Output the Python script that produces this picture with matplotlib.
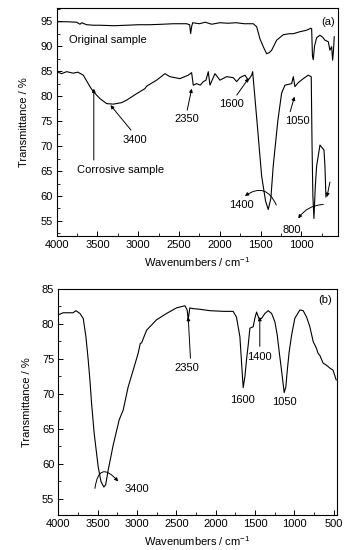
import matplotlib
matplotlib.use("Agg")
import matplotlib.pyplot as plt
from matplotlib.ticker import MultipleLocator

plt.rcParams['font.family'] = ['Liberation Sans', 'DejaVu Sans']
plt.rcParams['mathtext.fontset'] = 'custom'
plt.rcParams['mathtext.rm'] = 'Liberation Sans'
plt.rcParams['mathtext.default'] = 'regular'

# ---------------- Panel (a) data ----------------
orig_wn = [4000, 3877, 3755, 3714, 3694, 3632, 3550, 3470, 3300, 3142, 3000, 2857, 2700,
           2571, 2407, 2370, 2358, 2345, 2333, 2250, 2180, 2100, 2000, 1900, 1800, 1700,
           1591, 1549, 1509, 1468, 1427, 1395, 1365, 1304, 1223, 1150, 1100, 1018, 936,
           885, 875, 865, 855, 840, 814, 773, 740, 712, 671, 651, 630, 618, 608, 598]
orig_T = [94.9, 94.9, 94.8, 94.4, 94.7, 94.3, 94.2, 94.2, 94.1, 94.2, 94.3, 94.3, 94.4,
          94.5, 94.5, 94.3, 92.5, 94.0, 94.7, 94.5, 94.8, 94.4, 94.7, 94.6, 94.7, 94.5,
          94.5, 93.9, 91.5, 89.9, 88.5, 88.7, 89.2, 91.2, 92.3, 92.5, 92.5, 92.9, 93.2,
          93.6, 93.5, 88.0, 87.3, 90.0, 91.7, 92.2, 91.8, 91.2, 90.9, 89.2, 89.9, 87.2, 89.0, 91.9]

corr_wn = [4000, 3940, 3877, 3800, 3740, 3674, 3592, 3551, 3469, 3387, 3306, 3203, 3142,
           3020, 2918, 2897, 2775, 2673, 2612, 2489, 2387, 2346, 2326, 2285, 2240, 2203,
           2170, 2142, 2121, 2060, 1999, 1917, 1836, 1794, 1754, 1692, 1652, 1610, 1598,
           1540, 1488, 1440, 1407, 1375, 1346, 1290, 1243, 1202, 1120, 1100, 1080, 1039,
           978, 917, 880, 870, 860, 847, 830, 814, 773, 724, 712, 700]
corr_T = [84.9, 84.5, 84.9, 84.6, 84.8, 84.2, 81.9, 80.9, 79.5, 78.5, 78.4, 78.7, 79.2,
          80.5, 81.5, 82.0, 83.2, 84.5, 83.9, 83.5, 84.2, 84.7, 82.2, 82.5, 82.2, 82.9,
          83.2, 84.9, 82.2, 84.5, 83.2, 83.9, 83.7, 82.9, 83.7, 84.2, 83.2, 84.2, 84.9,
          74.0, 64.0, 59.0, 57.3, 59.5, 66.0, 75.0, 80.6, 82.2, 82.5, 83.9, 81.9, 82.7,
          83.5, 84.2, 83.9, 70.0, 60.0, 55.5, 62.0, 66.0, 70.2, 69.2, 66.0, 59.8]

# ---------------- Panel (b) data ----------------
b_wn = [4003, 3940, 3813, 3778, 3727, 3685, 3651, 3622, 3600, 3579, 3546, 3495, 3460,
        3423, 3400, 3368, 3304, 3228, 3177, 3114, 3050, 2987, 2960, 2943, 2880, 2753,
        2626, 2499, 2393, 2364, 2351, 2330, 2295, 2203, 2076, 1900, 1780, 1738, 1694,
        1670, 1652, 1630, 1608, 1588, 1567, 1525, 1504, 1482, 1449, 1418, 1376, 1334,
        1291, 1249, 1219, 1194, 1163, 1131, 1110, 1093, 1068, 1037, 996, 932, 890, 847,
        805, 763, 720, 700, 678, 636, 593, 551, 510, 470]
b_T = [81.3, 81.6, 81.6, 81.9, 81.5, 80.8, 78.2, 74.9, 72.0, 68.7, 64.4, 59.6, 57.5,
       56.7, 57.0, 59.1, 62.7, 66.3, 67.7, 71.0, 73.4, 75.8, 77.2, 77.3, 79.1, 80.6,
       81.5, 82.3, 82.6, 82.0, 80.6, 82.3, 82.2, 82.1, 81.9, 81.8, 81.8, 81.0, 78.2,
       74.0, 70.9, 72.5, 75.1, 77.0, 79.4, 79.6, 80.8, 81.7, 80.7, 80.8, 81.5, 81.9,
       81.5, 80.3, 78.4, 76.0, 73.2, 70.2, 71.0, 73.2, 76.0, 78.4, 80.8, 82.0, 81.9, 81.0,
       79.6, 77.5, 76.5, 75.8, 75.5, 74.4, 74.1, 73.7, 73.4, 72.0]

xticks_a = [4000, 3500, 3000, 2500, 2000, 1500, 1000]
yticks_a = [55, 60, 65, 70, 75, 80, 85, 90, 95]
xticks_b = [4000, 3500, 3000, 2500, 2000, 1500, 1000, 500]
yticks_b = [55, 60, 65, 70, 75, 80, 85]

FS = 8
fig = plt.figure(figsize=(3.52, 5.5), dpi=100)
axa = fig.add_axes([0.161, 0.571, 0.799, 0.414])
axb = fig.add_axes([0.166, 0.0636, 0.790, 0.411])

lw = 0.8
axa.plot(orig_wn, orig_T, color='black', lw=lw)
axa.plot(corr_wn, corr_T, color='black', lw=lw)
axb.plot(b_wn, b_T, color='black', lw=lw)

axa.set_xlim(4000, 553)
axa.set_ylim(52, 97.6)
axb.set_xlim(4000, 466)
axb.set_ylim(52.7, 85)
axa.set_xticks(xticks_a)
axa.set_yticks(yticks_a)
axb.set_xticks(xticks_b)
axb.set_yticks(yticks_b)

for ax, ylx in ((axa, -0.097), (axb, -0.094)):
    ax.xaxis.set_minor_locator(MultipleLocator(250))
    ax.yaxis.set_minor_locator(MultipleLocator(2.5))
    ax.tick_params(which='major', direction='in', length=3.5, width=0.7, labelsize=FS, pad=3)
    ax.tick_params(which='minor', direction='in', length=2, width=0.6)
    for s in ax.spines.values():
        s.set_linewidth(0.8)
    ax.set_xlabel(r'Wavenumbers / cm$^{-1}$', fontsize=FS)
    ax.set_ylabel('Transmittance / %', fontsize=FS)
    ax.xaxis.set_label_coords(0.5, -0.085)
    ax.yaxis.set_label_coords(ylx, 0.5)

arr = dict(arrowstyle='-|>', color='black', lw=0.7, mutation_scale=5, shrinkA=0, shrinkB=0)

# Panel (a) annotations
axa.text(0.965, 0.94, '(a)', transform=axa.transAxes, ha='center', va='center', fontsize=FS)
axa.text(3854, 91.2, 'Original sample', ha='left', va='center', fontsize=FS)
axa.text(3756, 65.2, 'Corrosive sample', ha='left', va='center', fontsize=FS)
axa.annotate('', xy=(3545, 81.5), xytext=(3545, 67.2), arrowprops=arr)
axa.text(3037, 71.2, '3400', ha='center', va='center', fontsize=FS)
axa.annotate('', xy=(3341, 78.2), xytext=(3089, 73.2), arrowprops=arr)
axa.text(2406, 75.5, '2350', ha='center', va='center', fontsize=FS)
axa.annotate('', xy=(2345, 81.5), xytext=(2400, 77.2), arrowprops=arr)
axa.text(1857, 78.5, '1600', ha='center', va='center', fontsize=FS)
axa.annotate('', xy=(1646, 83.6), xytext=(1793, 80.2), arrowprops=arr)
axa.text(1049, 75.1, '1050', ha='center', va='center', fontsize=FS)
axa.annotate('', xy=(1085, 79.9), xytext=(1138, 76.9), arrowprops=arr)
axa.text(1736, 58.2, '1400', ha='center', va='center', fontsize=FS)
axa.annotate('', xy=(1693, 60.0), xytext=(1309, 58.2),
             arrowprops=dict(arr, connectionstyle='arc3,rad=0.6'))
axa.text(1122, 53.1, '800', ha='center', va='center', fontsize=FS)
axa.annotate('', xy=(1039, 55.5), xytext=(733, 58.3),
             arrowprops=dict(arr, connectionstyle='arc3,rad=0.25'))
axa.annotate('', xy=(688, 59.8), xytext=(651, 62.8), arrowprops=arr)

# Panel (b) annotations
axb.text(0.958, 0.95, '(b)', transform=axb.transAxes, ha='center', va='center', fontsize=FS)
axb.text(2372, 73.7, '2350', ha='center', va='center', fontsize=FS)
axb.annotate('', xy=(2351, 81.0), xytext=(2322, 75.1), arrowprops=arr)
axb.text(1452, 75.3, '1400', ha='center', va='center', fontsize=FS)
axb.annotate('', xy=(1441, 81.0), xytext=(1441, 76.8), arrowprops=arr)
axb.text(1659, 69.1, '1600', ha='center', va='center', fontsize=FS)
axb.text(1131, 68.8, '1050', ha='center', va='center', fontsize=FS)
axb.text(3000, 56.4, '3400', ha='center', va='center', fontsize=FS)
axb.annotate('', xy=(3241, 57.5), xytext=(3536, 56.5),
             arrowprops=dict(arr, connectionstyle='arc3,rad=-1.1'))

fig.savefig('out.png', dpi=100)
